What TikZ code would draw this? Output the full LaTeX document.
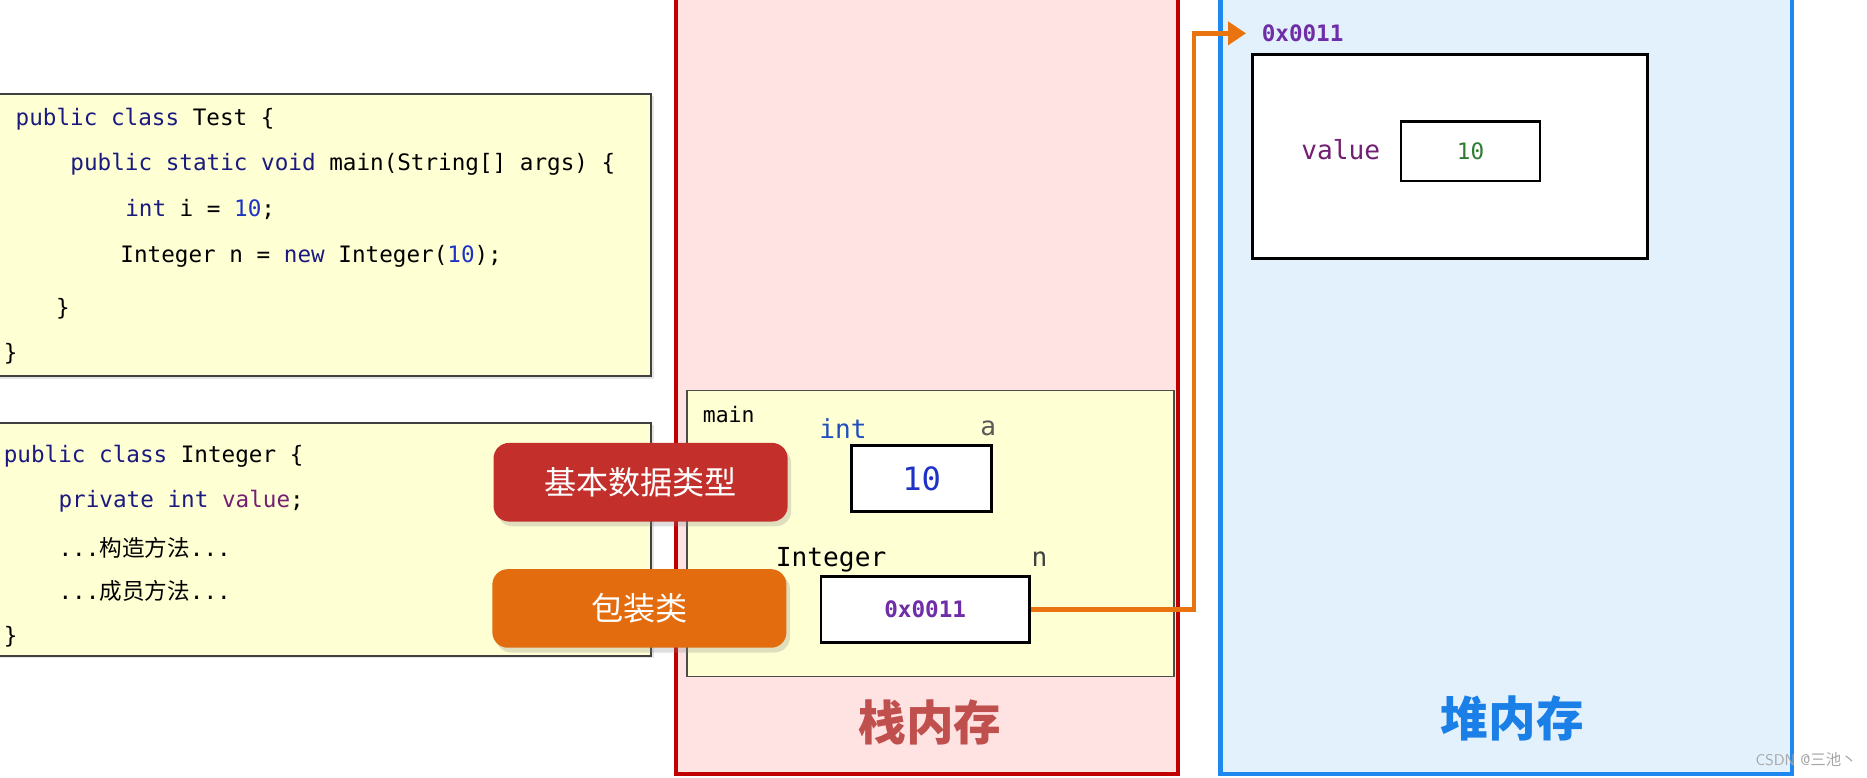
\documentclass[tikz,border=0pt]{standalone}
\usepackage{fontspec}
\setmonofont{DejaVu Sans Mono}
\newfontfamily\cjk{Noto Sans CJK SC}
\usetikzlibrary{arrows.meta,shadows,calc}
\definecolor{stackfill}{HTML}{FFE3E3}
\definecolor{stackline}{HTML}{C00000}
\definecolor{heapfill}{HTML}{E3F1FC}
\definecolor{heapline}{HTML}{1E88F0}
\definecolor{codefill}{HTML}{FFFFD4}
\definecolor{kwnavy}{HTML}{1A1A80}
\definecolor{numblue}{HTML}{1E32C8}
\definecolor{fieldpurple}{HTML}{731F73}
\definecolor{addrpurple}{HTML}{6F2DA8}
\definecolor{valgreen}{HTML}{2E7D32}
\definecolor{intblue}{HTML}{1F4FBF}
\definecolor{btnred}{HTML}{C3302C}
\definecolor{btnorange}{HTML}{E36C0E}
\definecolor{linkorange}{HTML}{E8730F}
\definecolor{stacktext}{HTML}{C0504D}
\definecolor{heaptext}{HTML}{1A7FE6}

\begin{document}
\begin{tikzpicture}[x=1pt,y=-1pt,
  code/.style={anchor=west, inner sep=0pt, font=\ttfamily\fontsize{19}{19}\selectfont},
  varlabel/.style={inner sep=0pt, font=\ttfamily\fontsize{22}{22}\selectfont},
  cell/.style={draw=black, line width=2.4pt, fill=white, inner sep=0pt},
  tag/.style={rounded corners=13pt, text=white, inner sep=0pt, minimum width=247pt, minimum height=66pt,
    font=\cjk\fontsize{27}{27}\selectfont, drop shadow={opacity=0.25, shadow xshift=3pt, shadow yshift=-4pt}},
  area/.style={line width=3.5pt},
  areatitle/.style={font=\cjk\bfseries\fontsize{40}{40}\selectfont}]
  \fill[white] (0,0) rectangle (1568,653);
  \useasboundingbox (0,0) rectangle (1568,653);

  % stack and heap
  \draw[area, draw=stackline, fill=stackfill] (568,-10) rectangle (989,650);
  \draw[area, draw=heapline, fill=heapfill] (1025,-10) rectangle (1505,650);
  \node[areatitle, text=stacktext] (stacktitle) at (781,607) {栈内存};
  \node[areatitle, text=heaptext] (heaptitle) at (1270,603) {堆内存};

  % source code
  \draw[black!75, line width=1.5pt, fill=codefill, drop shadow={opacity=0.2, shadow xshift=2pt, shadow yshift=-2pt}]
    (-5,79) rectangle (547,316);
  \node[code] (t1) at (13,100)  {{\color{kwnavy}public class} Test \{};
  \node[code] (t2) at (59,138)  {{\color{kwnavy}public static void} main(String[] args) \{};
  \node[code] (t3) at (105,176) {{\color{kwnavy}int} i = {\color{numblue}10};};
  \node[code] (t4) at (101,215) {Integer n = {\color{kwnavy}new} Integer({\color{numblue}10});};
  \node[code] (t5) at (47,259)  {\}};
  \node[code] (t6) at (3,297)   {\}};

  \draw[black!75, line width=1.5pt, fill=codefill, drop shadow={opacity=0.2, shadow xshift=2pt, shadow yshift=-2pt}]
    (-5,355) rectangle (547,551);
  \node[code] (c1) at (3,383)  {{\color{kwnavy}public class} Integer \{};
  \node[code] (c2) at (49,421) {{\color{kwnavy}private int} {\color{fieldpurple}value};};
  \node[code] (c3) at (49,460) {...{\cjk 构造方法}...};
  \node[code] (c4) at (49,496) {...{\cjk 成员方法}...};
  \node[code] (c5) at (3,535)  {\}};

  % main frame
  \draw[black!70, line width=1.3pt, fill=codefill] (577,328) rectangle (986,568);
  \node[code, anchor=center, font=\ttfamily\fontsize{18}{18}\selectfont] (mainlbl) at (612,348) {main};
  \node[varlabel, text=intblue] (intlbl) at (708,360) {int};
  \node[varlabel, text=black!65] (alabel) at (830,360) {a};
  \node[cell, minimum width=118pt, minimum height=55pt, text=numblue,
    font=\ttfamily\fontsize{27}{27}\selectfont] (abox) at (774,402) {10};
  \node[varlabel] (intglbl) at (698,470) {Integer};
  \node[varlabel, text=black!75] (nlabel) at (873,470) {n};
  \node[cell, minimum width=175pt, minimum height=55pt, text=addrpurple,
    font=\ttfamily\bfseries\fontsize{19}{19}\selectfont] (nbox) at (777,512) {0x0011};

  % heap object
  \node[code, anchor=center, text=addrpurple, font=\ttfamily\bfseries\fontsize{19}{19}\selectfont] (addr) at (1094,28) {0x0011};
  \draw[black, line width=2.6pt, fill=white] (1052,46) rectangle (1384,217);
  \node[varlabel, text=fieldpurple] (vallbl) at (1126,126) {value};
  \node[cell, line width=1.8pt, minimum width=117pt, minimum height=50pt, text=valgreen,
    font=\ttfamily\fontsize{19}{19}\selectfont] (vbox) at (1235,127) {10};

  \draw[linkorange, line width=4pt, -{Triangle[length=15pt,width=19pt]}]
    (nbox.east) -- ++(137,0) |- ($(addr.west)+(-13,0)$);

  % type tags
  \node[tag, fill=btnred] (basic) at (538,405) {基本数据类型};
  \node[tag, fill=btnorange] (wrapper) at (537,511) {包装类};

  \node[text=gray!70, font=\sffamily\fontsize{13}{13}\selectfont] (mark) at (1517,638) {CSDN @{\cjk 三池丶}};
\end{tikzpicture}
\end{document}
